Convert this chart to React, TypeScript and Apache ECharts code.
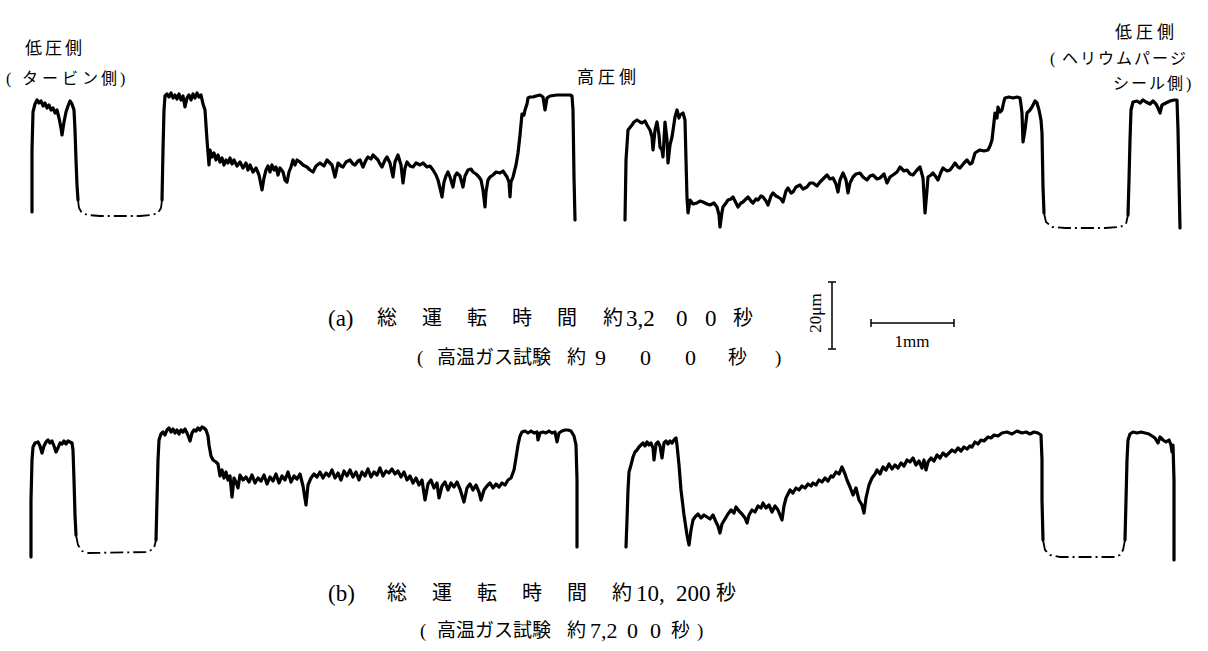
import React, { useEffect, useRef } from "react";
import * as echarts from "echarts";

// Surface profile traces: x = position along the seal (mm), y = height (µm)
// ---- (a) 総運転時間 約3,200秒 ----
const aLeftSolid1 = [[0.384,8.4],[0.384,27],[0.396,38.4],[0.42,40.8],[0.444,42],[0.468,41.1],[0.492,41.7],[0.516,40.2],[0.54,41.1],[0.564,39.6],[0.588,40.5],[0.612,39],[0.636,39.6],[0.66,38.1],[0.684,39],[0.708,36.6],[0.732,33.6],[0.744,31.5],[0.768,35.4],[0.792,38.4],[0.816,40.2],[0.84,41.7],[0.864,40.8],[0.888,39],[0.9,33],[0.912,24],[0.924,16.5],[0.936,12]];
const aLeftDash = [[0.936,12],[0.948,9.6],[0.984,8.1],[1.056,7.5],[1.2,7.2],[1.68,7.2],[1.824,7.5],[1.896,8.1],[1.932,9.6],[1.944,12]];
const aLeftSolid2 = [[1.944,12],[1.956,27],[1.968,39],[1.98,43.2],[2.004,43.8],[2.028,42.9],[2.052,44.1],[2.076,42.6],[2.1,43.5],[2.124,42.3],[2.148,43.8],[2.172,42],[2.196,43.2],[2.22,39.9],[2.244,42.6],[2.268,43.5],[2.292,42],[2.316,43.8],[2.34,42.6],[2.364,44.1],[2.388,42.9],[2.412,43.5],[2.436,40.8],[2.46,39],[2.484,30],[2.508,22.5],[2.52,27],[2.544,24.9],[2.568,26.1],[2.592,24],[2.616,25.5],[2.64,23.4],[2.664,24.6],[2.688,22.5],[2.712,24],[2.736,23.1],[2.76,24.6],[2.784,22.8],[2.808,24],[2.844,22.2],[2.88,23.4],[2.916,21.6],[2.952,23.1],[2.976,21],[3.0,22.5],[3.036,20.4],[3.072,21.6],[3.108,19.5],[3.144,15],[3.168,18.6],[3.192,21],[3.216,22.2],[3.24,20.4],[3.264,22.5],[3.288,21],[3.312,21.9],[3.336,19.5],[3.36,21.6],[3.396,20.4],[3.42,18],[3.444,17.4],[3.468,20.4],[3.492,21.9],[3.516,24],[3.54,22.5],[3.564,24],[3.6,23.4],[3.636,22.5],[3.684,21.9],[3.72,21],[3.756,20.4],[3.792,22.2],[3.84,23.1],[3.888,22.2],[3.924,24],[3.96,23.1],[3.984,22.5],[4.02,18.9],[4.056,23.1],[4.092,22.2],[4.116,21.9],[4.152,23.4],[4.2,24],[4.236,22.8],[4.26,22.5],[4.296,23.7],[4.32,24],[4.356,21.9],[4.392,24],[4.416,24.9],[4.452,24.3],[4.476,25.5],[4.512,24.6],[4.536,24],[4.56,22.8],[4.584,21.9],[4.62,24],[4.644,24.9],[4.68,23.1],[4.716,18.9],[4.74,23.4],[4.776,25.5],[4.812,22.5],[4.836,17.1],[4.86,21.6],[4.884,23.4],[4.92,22.2],[4.956,21.9],[4.992,23.1],[5.04,22.5],[5.076,23.1],[5.124,21.9],[5.16,22.2],[5.196,21],[5.232,19.5],[5.256,18],[5.28,15.6],[5.304,12.9],[5.328,17.4],[5.352,19.2],[5.376,20.4],[5.4,18.9],[5.436,15.9],[5.46,19.2],[5.484,20.1],[5.52,19.2],[5.556,15.9],[5.58,19.2],[5.616,21],[5.652,21.3],[5.676,20.4],[5.712,19.8],[5.748,18.9],[5.772,18],[5.796,15],[5.82,9.9],[5.832,14.4],[5.856,18],[5.88,18.9],[5.916,19.5],[5.952,20.4],[6.0,20.1],[6.036,20.7],[6.084,18.9],[6.108,17.4],[6.12,12.9],[6.132,17.4],[6.156,18.9],[6.192,22.5],[6.216,26.1],[6.24,31.5],[6.264,37.8],[6.288,37.5],[6.3,39],[6.324,40.8],[6.336,42.6],[6.36,42.9],[6.396,42.9],[6.432,43.2],[6.48,43.5],[6.516,42.9],[6.54,39],[6.564,42.6],[6.6,43.2],[6.684,43.5],[6.78,43.5],[6.84,43.5],[6.864,43.2],[6.876,39],[6.888,18.9],[6.9,6]];
const aRightSolid1 = [[7.5,6],[7.512,24],[7.536,33],[7.584,34.5],[7.608,35.4],[7.644,36],[7.68,35.4],[7.704,35.1],[7.74,35.7],[7.764,34.5],[7.8,33],[7.824,30.9],[7.836,27],[7.86,33],[7.884,35.4],[7.908,31.5],[7.92,27.9],[7.944,27],[7.956,24.9],[7.98,35.4],[8.004,30],[8.016,23.1],[8.04,28.5],[8.064,30.9],[8.1,36.9],[8.124,39],[8.148,36.6],[8.16,37.5],[8.196,38.1],[8.22,36],[8.232,24],[8.244,12.6],[8.256,8.1],[8.28,12],[8.316,10.8],[8.364,11.1],[8.4,11.7],[8.436,11.4],[8.484,10.8],[8.52,10.5],[8.568,11.1],[8.604,9.9],[8.628,7.5],[8.64,3.9],[8.664,8.4],[8.676,9.9],[8.712,11.1],[8.736,12],[8.772,12.3],[8.796,12.9],[8.832,11.1],[8.856,9.9],[8.892,11.1],[8.916,11.4],[8.952,12.3],[8.976,12.9],[9.012,11.7],[9.036,11.1],[9.072,12.3],[9.096,12],[9.132,13.2],[9.156,12.9],[9.192,11.7],[9.216,10.5],[9.252,13.2],[9.276,14.1],[9.312,13.2],[9.336,12.9],[9.372,12.3],[9.396,11.4],[9.432,14.7],[9.456,15.6],[9.492,14.1],[9.516,14.4],[9.552,15.9],[9.6,16.5],[9.636,15.3],[9.684,15.9],[9.72,17.1],[9.756,17.1],[9.804,16.2],[9.84,17.4],[9.888,18.6],[9.924,19.5],[9.96,18.3],[9.996,18.6],[10.032,16.8],[10.056,14.4],[10.08,18],[10.116,20.1],[10.152,18],[10.176,14.1],[10.2,17.1],[10.236,18.9],[10.272,19.8],[10.32,20.1],[10.356,18.9],[10.404,18],[10.44,19.2],[10.476,19.5],[10.524,18.3],[10.56,18.6],[10.608,19.8],[10.644,17.1],[10.68,18.9],[10.716,19.5],[10.764,20.4],[10.8,21.9],[10.848,20.7],[10.884,21],[10.92,19.8],[10.956,19.5],[11.004,21],[11.04,21.9],[11.076,18.6],[11.1,8.1],[11.124,15],[11.136,18.9],[11.172,19.5],[11.196,20.1],[11.232,18.9],[11.256,18],[11.292,20.4],[11.316,21.6],[11.364,20.7],[11.4,21],[11.436,22.2],[11.46,23.1],[11.496,21.9],[11.52,21.6],[11.568,23.1],[11.604,24],[11.64,22.8],[11.664,23.1],[11.7,26.1],[11.736,26.7],[11.76,27],[11.808,26.7],[11.856,27],[11.88,28.2],[11.904,30],[11.94,38.1],[11.964,36.6],[11.976,39.9],[12.0,38.4],[12.024,39],[12.048,41.7],[12.06,42.6],[12.108,42.9],[12.156,42.6],[12.204,42.9],[12.24,42.6],[12.252,40.5],[12.264,38.1],[12.276,29.4],[12.3,33],[12.324,38.1],[12.36,39],[12.384,39.9],[12.42,41.7],[12.444,41.1],[12.468,39],[12.492,36],[12.504,32.1],[12.516,15.9],[12.528,8.1]];
const aRightDash = [[12.528,8.1],[12.552,5.4],[12.624,3.9],[12.78,3.6],[13.26,3.6],[13.44,3.9],[13.512,4.8],[13.536,7.5]];
const aRightSolid2 = [[13.536,7.5],[13.548,18],[13.56,30],[13.572,39],[13.596,41.4],[13.644,41.7],[13.68,41.1],[13.716,42],[13.752,41.4],[13.8,40.8],[13.836,41.7],[13.872,40.8],[13.896,39.6],[13.92,38.1],[13.944,40.5],[13.992,41.1],[14.04,41.7],[14.088,42],[14.124,42],[14.136,33],[14.148,18],[14.16,3.6]];

// ---- (b) 総運転時間 約10,200秒 ----
const bLeftSolid1 = [[0.372,6.9],[0.372,24],[0.384,36],[0.396,39.9],[0.42,41.1],[0.456,41.4],[0.48,40.2],[0.504,38.1],[0.528,40.2],[0.552,41.4],[0.576,42],[0.6,41.1],[0.624,41.7],[0.648,40.2],[0.672,38.4],[0.696,39.6],[0.72,41.1],[0.744,40.8],[0.768,41.7],[0.792,40.8],[0.816,41.7],[0.84,41.4],[0.864,41.1],[0.876,39],[0.888,30],[0.9,19.5],[0.912,13.5]];
const bLeftDash = [[0.912,13.5],[0.936,10.5],[0.984,8.7],[1.056,8.1],[1.776,8.4],[1.848,9.6],[1.872,12]];
const bLeftSolid2 = [[1.872,12],[1.884,24],[1.896,36],[1.908,42],[1.932,43.8],[1.956,44.4],[1.98,43.5],[2.004,45],[2.028,45.6],[2.052,44.4],[2.076,45.3],[2.1,44.1],[2.124,45],[2.148,43.8],[2.172,45],[2.196,44.4],[2.22,45.3],[2.244,44.1],[2.268,42.6],[2.28,41.7],[2.304,44.1],[2.328,45],[2.352,44.7],[2.376,45.6],[2.4,45],[2.424,45.9],[2.448,45.6],[2.472,45],[2.496,43.2],[2.508,40.5],[2.532,37.2],[2.556,36],[2.592,35.4],[2.616,34.8],[2.64,31.2],[2.664,33],[2.688,30.6],[2.712,32.4],[2.736,30],[2.76,31.2],[2.784,24.9],[2.808,30.6],[2.832,29.4],[2.856,27.6],[2.88,31.5],[2.916,30],[2.952,30.9],[2.988,29.4],[3.024,31.5],[3.06,29.1],[3.096,30.6],[3.132,29.7],[3.168,31.5],[3.204,28.8],[3.24,30.9],[3.276,29.7],[3.312,31.8],[3.348,29.1],[3.384,31.2],[3.42,30],[3.456,32.4],[3.492,29.4],[3.528,31.2],[3.564,30.3],[3.6,31.8],[3.636,28.2],[3.672,22.5],[3.696,28.5],[3.732,30.6],[3.768,31.8],[3.804,30.9],[3.84,32.4],[3.876,30.6],[3.912,32.1],[3.948,31.2],[3.984,33],[4.02,30.6],[4.056,32.1],[4.092,30],[4.128,32.7],[4.164,31.2],[4.2,33],[4.236,30.9],[4.272,32.4],[4.308,30],[4.344,32.4],[4.38,31.2],[4.416,33.3],[4.452,30.9],[4.488,32.4],[4.524,31.5],[4.56,33.6],[4.596,31.2],[4.632,32.7],[4.668,32.1],[4.704,33.3],[4.74,31.8],[4.776,32.7],[4.812,30.9],[4.848,32.4],[4.884,30],[4.92,31.2],[4.956,29.1],[4.992,30.6],[5.028,28.5],[5.064,30],[5.1,24],[5.136,28.8],[5.172,30],[5.208,27.6],[5.244,29.1],[5.268,24.6],[5.304,28.2],[5.34,29.4],[5.376,27],[5.412,29.1],[5.448,27.9],[5.484,29.4],[5.52,27.3],[5.568,23.4],[5.604,27.6],[5.64,28.8],[5.676,27],[5.712,28.5],[5.748,26.4],[5.772,24],[5.808,27],[5.844,28.2],[5.88,29.1],[5.916,27.6],[5.952,28.8],[5.988,27.9],[6.024,29.1],[6.06,28.5],[6.096,30],[6.132,30.6],[6.168,33],[6.192,36.6],[6.216,40.5],[6.24,43.2],[6.264,44.4],[6.3,44.7],[6.336,44.1],[6.372,44.7],[6.408,44.1],[6.444,44.4],[6.456,42],[6.48,44.1],[6.516,44.4],[6.552,44.1],[6.588,44.7],[6.624,44.1],[6.66,44.4],[6.684,41.4],[6.708,44.1],[6.744,44.7],[6.78,45],[6.816,45],[6.852,44.7],[6.888,43.2],[6.912,40.5],[6.924,30],[6.924,9.9]];
const bRightSolid1 = [[7.512,9.9],[7.524,18],[7.536,27],[7.548,32.4],[7.572,34.5],[7.596,36.9],[7.62,38.4],[7.644,39],[7.668,39.9],[7.692,40.5],[7.716,41.1],[7.74,40.2],[7.764,41.4],[7.788,40.5],[7.812,41.1],[7.836,39.6],[7.848,36],[7.872,40.8],[7.896,41.4],[7.92,40.2],[7.944,36.6],[7.968,41.1],[7.992,41.7],[8.016,40.8],[8.04,41.7],[8.064,41.1],[8.088,42],[8.112,42.6],[8.124,40.5],[8.148,34.5],[8.172,27],[8.208,19.5],[8.244,13.5],[8.268,10.5],[8.292,15],[8.316,18],[8.34,18.9],[8.376,19.8],[8.412,18.6],[8.448,19.5],[8.484,18.9],[8.52,18.3],[8.556,19.5],[8.592,17.4],[8.616,16.2],[8.64,14.1],[8.664,16.8],[8.7,18.3],[8.736,19.8],[8.772,21],[8.808,20.1],[8.832,21.9],[8.868,20.7],[8.904,19.8],[8.94,18.6],[8.964,17.1],[8.988,19.5],[9.024,21],[9.06,20.4],[9.096,22.2],[9.132,21.6],[9.156,23.1],[9.192,21.6],[9.228,22.5],[9.264,20.4],[9.3,22.2],[9.336,21],[9.36,19.5],[9.384,18],[9.408,22.2],[9.432,24.6],[9.456,25.8],[9.48,27],[9.516,26.1],[9.552,27.6],[9.588,27],[9.624,28.2],[9.66,27.6],[9.696,28.8],[9.732,28.2],[9.756,29.1],[9.792,28.5],[9.828,30],[9.864,29.4],[9.9,30.6],[9.936,29.7],[9.972,31.2],[9.996,30.9],[10.032,32.4],[10.068,31.8],[10.104,33.9],[10.14,31.8],[10.164,30],[10.2,27.9],[10.236,25.5],[10.272,27.6],[10.308,24],[10.344,22.5],[10.368,20.1],[10.392,24.6],[10.428,28.5],[10.464,30.6],[10.5,31.8],[10.524,33],[10.56,31.8],[10.596,33.9],[10.632,33],[10.668,34.8],[10.704,33.3],[10.74,34.5],[10.776,33.6],[10.812,35.1],[10.848,34.2],[10.884,36],[10.92,35.4],[10.956,36.6],[10.992,34.5],[11.028,35.7],[11.064,33.6],[11.088,36],[11.112,33],[11.136,35.4],[11.172,36.6],[11.208,35.7],[11.244,37.5],[11.28,36.6],[11.316,38.1],[11.352,37.2],[11.388,38.1],[11.424,39],[11.46,38.4],[11.496,39.6],[11.532,38.7],[11.568,39.9],[11.604,39.3],[11.64,40.2],[11.664,39.9],[11.7,41.4],[11.736,40.8],[11.772,42],[11.808,41.7],[11.856,42.9],[11.892,42.6],[11.928,43.5],[11.976,43.2],[12.024,44.1],[12.084,44.4],[12.144,43.8],[12.204,44.7],[12.264,44.1],[12.312,44.4],[12.36,43.8],[12.408,44.4],[12.456,44.1],[12.492,43.5],[12.504,36],[12.504,24],[12.516,12]];
const bRightDash = [[12.516,12],[12.54,9],[12.6,7.5],[12.72,6.9],[13.38,6.9],[13.44,7.5],[13.476,9],[13.5,12]];
const bRightSolid2 = [[13.5,12],[13.512,24],[13.524,36],[13.536,42],[13.56,43.8],[13.596,44.4],[13.644,44.1],[13.692,44.4],[13.74,44.1],[13.788,43.8],[13.824,43.2],[13.86,42.6],[13.896,41.1],[13.92,42.9],[13.956,42],[13.992,41.4],[14.028,42],[14.052,40.5],[14.064,38.4],[14.076,40.5],[14.088,30],[14.088,6]];

// ---- texts ----
const leftTitle = ["低", "圧", "側"];
const leftSub = ["(", "タ", "ー", "ビ", "ン", "側", ")"];
const midTitle = ["高", "圧", "側"];
const rightTitle = ["低", "圧", "側"];
const rightSub1 = ["(", "ヘ", "リ", "ウ", "ム", "パ", "ー", "ジ"];
const rightSub2 = ["シ", "ー", "ル", "側", ")"];
const capA1 = ["(a)", "総", "運", "転", "時", "間", "約", "3,2", "0", "0", "秒"];
const capA2 = ["(", "高", "温", "ガ", "ス", "試", "験", "約", "9", "0", "0", "秒", ")"];
const capB1 = ["(b)", "総", "運", "転", "時", "間", "約", "10,", "200", "秒"];
const capB2 = ["(", "高", "温", "ガ", "ス", "試", "験", "約", "7,2", "0", "0", "秒", ")"];
const scaleV = "20μm";
const scaleH = "1mm";

const FONT = '"Liberation Serif", "Noto Sans CJK JP", serif';

function row(tokens: string[], xs: number[], y: number, size: number, numSize?: number) {
  return tokens.map((t, i) => {
    const isNum = /^[0-9,()ab]+$/.test(t) && t !== "(" && t !== ")";
    const s = isNum && numSize ? numSize : size;
    return {
      type: "text",
      x: xs[i],
      y,
      silent: true,
      style: {
        text: t,
        fill: "#000",
        font: `${s}px ${FONT}`,
        align: "left",
        verticalAlign: "middle",
        textAlign: "left",
        textVerticalAlign: "middle",
      },
    };
  });
}

export default function App() {
  const ref = useRef<HTMLDivElement>(null);
  useEffect(() => {
    if (!ref.current) return;
    const chart = echarts.init(ref.current, undefined, { renderer: "svg" });
    const solid = { color: "#000", width: 3.2, join: "round", cap: "round" };
    const dashed = { color: "#000", width: 1.8, type: [13, 4, 2, 4] };
    const mk = (data: number[][], idx: number, style: any) => ({
      type: "line",
      data,
      xAxisIndex: idx,
      yAxisIndex: idx,
      showSymbol: false,
      symbol: "none",
      silent: true,
      clip: false,
      lineStyle: style,
    });
    const graphic: any[] = [
      ...row(leftTitle, [25, 45, 65], 48, 17),
      ...row(leftSub, [6, 22, 42, 62, 82, 101, 120], 78, 16),
      ...row(midTitle, [577, 598, 619], 77, 17),
      ...row(rightTitle, [1115, 1136, 1157], 32, 17),
      ...row(rightSub1, [1050, 1062, 1080, 1098, 1116, 1134, 1152, 1170], 58, 16),
      ...row(rightSub2, [1113, 1131, 1149, 1167, 1186], 83, 16),
      ...row(capA1, [328, 377, 422, 467, 512, 557, 603, 626, 676, 705, 733], 318, 20, 23),
      ...row(capA2, [417, 437, 456, 475, 494, 513, 532, 567, 595, 640, 685, 728, 775], 357, 19, 22),
      ...row(capB1, [328, 387, 432, 477, 522, 567, 612, 636, 676, 716], 593, 20, 23),
      ...row(capB2, [420, 437, 456, 475, 494, 513, 532, 567, 590, 627, 650, 671, 697], 630, 19, 22),
      // scale bars
      { type: "line", silent: true, shape: { x1: 832, y1: 282, x2: 832, y2: 349 }, style: { stroke: "#000", lineWidth: 1.5 } },
      { type: "line", silent: true, shape: { x1: 828, y1: 282, x2: 836, y2: 282 }, style: { stroke: "#000", lineWidth: 1.5 } },
      { type: "line", silent: true, shape: { x1: 828, y1: 349, x2: 836, y2: 349 }, style: { stroke: "#000", lineWidth: 1.5 } },
      { type: "line", silent: true, shape: { x1: 871, y1: 323, x2: 954, y2: 323 }, style: { stroke: "#000", lineWidth: 1.5 } },
      { type: "line", silent: true, shape: { x1: 871, y1: 319, x2: 871, y2: 327 }, style: { stroke: "#000", lineWidth: 1.5 } },
      { type: "line", silent: true, shape: { x1: 954, y1: 319, x2: 954, y2: 327 }, style: { stroke: "#000", lineWidth: 1.5 } },
      {
        type: "text", silent: true, x: 815, y: 313, rotation: Math.PI / 2,
        style: { text: scaleV, fill: "#000", font: `17px ${FONT}`, align: "center", verticalAlign: "middle", textAlign: "center", textVerticalAlign: "middle" },
      },
      {
        type: "text", silent: true, x: 912, y: 341,
        style: { text: scaleH, fill: "#000", font: `17px ${FONT}`, align: "center", verticalAlign: "middle", textAlign: "center", textVerticalAlign: "middle" },
      },
    ];
    chart.setOption({
      animation: false,
      backgroundColor: "#fff",
      grid: [
        { left: 0, right: 0, top: 73.333, height: 166.667 },
        { left: 0, right: 0, top: 413.333, height: 166.667 },
      ],
      xAxis: [
        { type: "value", gridIndex: 0, min: 0, max: 14.496, show: false },
        { type: "value", gridIndex: 1, min: 0, max: 14.496, show: false },
      ],
      yAxis: [
        { type: "value", gridIndex: 0, min: 0, max: 50, show: false },
        { type: "value", gridIndex: 1, min: 0, max: 50, show: false },
      ],
      series: [
        mk(aLeftSolid1, 0, solid),
        mk(aLeftDash, 0, dashed),
        mk(aLeftSolid2, 0, solid),
        mk(aRightSolid1, 0, solid),
        mk(aRightDash, 0, dashed),
        mk(aRightSolid2, 0, solid),
        mk(bLeftSolid1, 1, solid),
        mk(bLeftDash, 1, dashed),
        mk(bLeftSolid2, 1, solid),
        mk(bRightSolid1, 1, solid),
        mk(bRightDash, 1, dashed),
        mk(bRightSolid2, 1, solid),
      ],
      graphic,
    });
    return () => chart.dispose();
  }, []);
  return (
    <div
      ref={ref}
      style={{ position: "fixed", left: 0, top: 0, width: 1208, height: 651, background: "#fff" }}
    />
  );
}
